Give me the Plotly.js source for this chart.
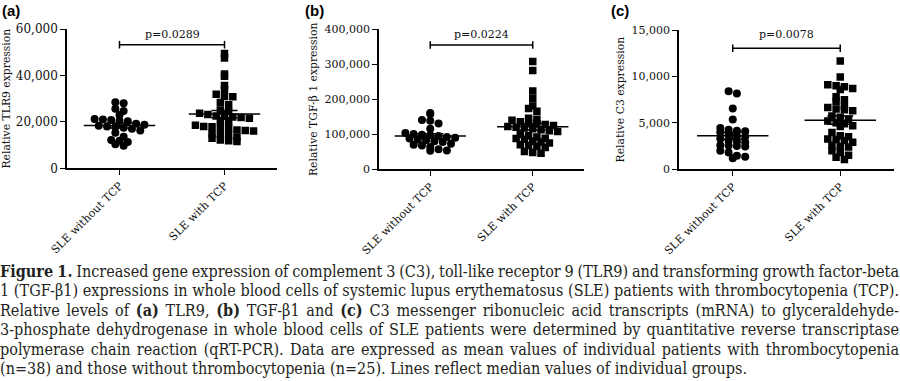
<!DOCTYPE html>
<html>
<head>
<meta charset="utf-8">
<script src="https://cdn.plot.ly/plotly-3.0.1.min.js"></script>
<style>
  html, body { margin: 0; padding: 0; background: #fff; }
  #wrap { position: relative; width: 900px; height: 381px; overflow: hidden; }
  #chart { position: absolute; left: 0; top: 0; width: 900px; height: 381px; }
  #caption { position: absolute; left: 0; top: 261.5px; width: 900px;
    transform-origin: 0 0;
    font-family: "DejaVu Serif", "Liberation Serif", serif;
    font-size: 16.5px; line-height: 19.5px; color: #231f20; }
  #caption div { white-space: nowrap; text-align: left; }
  #caption span { display: inline-block; white-space: nowrap; }
</style>
</head>
<body>
<div id="wrap">
  <div id="chart"></div>
  <div id="caption">
    <div><span class="j"><b>Figure 1.</b> Increased gene expression of complement 3 (C3), toll-like receptor 9 (TLR9) and transforming growth factor-beta</span></div>
    <div><span class="j">1 (TGF-β1) expressions in whole blood cells of systemic lupus erythematosus (SLE) patients with thrombocytopenia (TCP).</span></div>
    <div><span class="j">Relative levels of <b>(a)</b> TLR9, <b>(b)</b> TGF-β1 and <b>(c)</b> C3 messenger ribonucleic acid transcripts (mRNA) to glyceraldehyde-</span></div>
    <div><span class="j">3-phosphate dehydrogenase in whole blood cells of SLE patients were determined by quantitative reverse transcriptase</span></div>
    <div><span class="j">polymerase chain reaction (qRT-PCR). Data are expressed as mean values of individual patients with thrombocytopenia</span></div>
    <div><span id="lastline">(n=38) and those without thrombocytopenia (n=25). Lines reflect median values of individual groups.</span></div>
  </div>
</div>
<script>
// ---------------- data ----------------
const categories = ['SLE without TCP', 'SLE with TCP'];

const tlr9_noTCP = [28400, 28000, 25700, 24700, 23000, 21200, 21000, 20800, 20500, 20300,
  19200, 18800, 18300, 18000, 17800, 17500, 17000, 16300, 15300, 13600, 12200, 11900, 11300, 10400, 9700];
const tlr9_TCP = [49500, 47500, 40600, 39600, 35700, 33900, 31900, 30900, 30800, 28300, 27400,
  25100, 24500, 23700, 23200, 22500, 22400, 22100, 21900, 21600, 20600, 20100, 18500, 18000,
  17900, 17700, 17400, 16500, 16300, 16100, 15000, 14600, 14400, 13400, 12900, 12200, 11900, 11500];

const tgfb1_noTCP = [161000, 158000, 141000, 139000, 131000, 116000, 104000, 101000, 99000, 97000,
  95000, 92000, 90000, 88000, 85000, 83000, 80000, 78000, 73000, 70000, 68000, 64000, 57000, 54000, 53000];
const tgfb1_TCP = [308000, 282000, 224000, 202000, 181000, 174000, 166000, 146000, 143000, 140000,
  136000, 133000, 130000, 128000, 125000, 122000, 120000, 118000, 116000, 113000, 110000, 108000,
  100000, 96000, 92000, 89000, 88000, 86000, 80000, 78000, 75000, 70000, 68000, 66000, 62000, 51000, 48000, 46000];

const c3_noTCP = [8400, 8150, 6550, 5350, 4450, 4250, 4150, 4100, 4000, 3700, 3600, 3500, 3300,
  3100, 3000, 2900, 2600, 2550, 2500, 2450, 2000, 1800, 1450, 1350, 1200];
const c3_TCP = [11650, 9950, 9100, 9000, 8900, 8700, 8600, 7800, 7500, 7300, 6800, 6650, 6500,
  6400, 6300, 5750, 5600, 5400, 5200, 5000, 4900, 4700, 4600, 3950, 3600, 3500, 3250, 3200,
  3100, 2900, 2600, 2450, 2400, 2000, 1800, 1500, 1300, 1050];

const pValues = ['p=0.0289', 'p=0.0224', 'p=0.0078'];
const yTitles = ['Relative TLR9 expression', 'Relative TGF-β 1 expression', 'Relative C3 expression'];
const yMax = [60000, 400000, 15000];
const yStep = [20000, 100000, 5000];
const panelLabels = ['(a)', '(b)', '(c)'];

// ---------------- caption fit: last line width as in the reference, others justified ----------------
(function fitCaption() {
  const cap = document.getElementById('caption');
  const natural = document.getElementById('lastline').getBoundingClientRect().width;
  const s = 747 / natural;
  const target = 899 / s;
  cap.style.width = (900 / s) + 'px';
  cap.style.transform = 'scaleX(' + s + ')';
  document.querySelectorAll('#caption span.j').forEach(sp => {
    const w = sp.getBoundingClientRect().width / s;
    const nSpaces = (sp.textContent.match(/ /g) || []).length;
    if (nSpaces > 0) sp.style.wordSpacing = ((target - w) / nSpaces) + 'px';
  });
})();

// ---------------- layout geometry (pixels) ----------------
const W = 900, H = 381;
const panels = [
  { groups: [tlr9_noTCP, tlr9_TCP],   x0: 67,  x1: 277, yTop: 29,   yBot: 168.3, tickSize: 12, label: 0,   brk: 44.7, txt: 34 },
  { groups: [tgfb1_noTCP, tgfb1_TCP], x0: 379, x1: 584, yTop: 29.3, yBot: 169.3, tickSize: 11, label: 303, brk: 45,   txt: 34.3 },
  { groups: [c3_noTCP, c3_TCP],       x0: 679, x1: 894, yTop: 30,   yBot: 169.3, tickSize: 11, label: 609, brk: 48.3, txt: 35 }
];

function swarm(vals, center, xPerPx, yPerPx) {
  const binPx = 6.2, gapPx = 8.3;
  const bins = {};
  vals.forEach((v, i) => {
    const b = Math.floor(v / (binPx * yPerPx));
    (bins[b] = bins[b] || []).push(i);
  });
  const xs = new Array(vals.length);
  Object.values(bins).forEach(idx => {
    const k = idx.length;
    idx.forEach((i, j) => { xs[i] = center + (j - (k - 1) / 2) * gapPx * xPerPx; });
  });
  return xs;
}
function mean(a) { return a.reduce((s, v) => s + v, 0) / a.length; }
function sem(a) {
  const m = mean(a);
  const sd = Math.sqrt(a.reduce((s, v) => s + (v - m) * (v - m), 0) / (a.length - 1));
  return sd / Math.sqrt(a.length);
}

const traces = [];
const layout = {
  width: W, height: H,
  margin: { l: 0, r: 0, t: 0, b: 0 },
  paper_bgcolor: '#fff', plot_bgcolor: 'rgba(0,0,0,0)',
  showlegend: false,
  shapes: [], annotations: []
};
const serif = 'DejaVu Serif, Liberation Serif, serif';

panels.forEach((p, k) => {
  const s = k === 0 ? '' : String(k + 1);
  const xa = 'x' + s, ya = 'y' + s;
  const xPerPx = 2 / (p.x1 - p.x0);
  const yPerPx = yMax[k] / (p.yBot - p.yTop);
  const yd0 = 1 - p.yBot / H, yd1 = 1 - p.yTop / H;

  p.groups.forEach((vals, g) => {
    traces.push({
      type: 'scatter', mode: 'markers', xaxis: xa, yaxis: ya,
      x: swarm(vals, g, xPerPx, yPerPx), y: vals,
      marker: { symbol: g === 0 ? 'circle' : 'square', size: g === 0 ? 8 : 7.5, color: '#000' },
      hoverinfo: 'y'
    });
  });
  traces.push({
    type: 'scatter', mode: 'markers', xaxis: xa, yaxis: ya,
    x: [0, 1], y: p.groups.map(mean),
    marker: { symbol: 'line-ew', size: 51, color: '#000', line: { color: '#000', width: 1.5 } },
    error_y: { type: 'data', array: p.groups.map(sem), visible: true, color: '#000', thickness: 1.5, width: 13 },
    hoverinfo: 'skip'
  });

  layout['xaxis' + s] = {
    domain: [p.x0 / W, p.x1 / W], anchor: ya, range: [-0.5, 1.5],
    tickmode: 'array', tickvals: [0, 1], ticktext: categories, tickangle: -45,
    ticks: 'outside', ticklen: 5, tickwidth: 1.2, tickcolor: '#000',
    showline: true, linecolor: '#000', linewidth: 1.5,
    showgrid: false, zeroline: false, automargin: false, fixedrange: true,
    tickfont: { family: serif, size: 11, color: '#111' }
  };
  layout['yaxis' + s] = {
    domain: [yd0, yd1], anchor: xa, range: [0, yMax[k]], dtick: yStep[k], tickformat: ',d',
    ticks: 'outside', ticklen: 5, tickwidth: 1.2, tickcolor: '#000',
    showline: true, linecolor: '#000', linewidth: 1.5,
    showgrid: false, zeroline: false, automargin: false, fixedrange: true,
    tickfont: { family: serif, size: p.tickSize, color: '#111' },
    title: { text: yTitles[k], font: { family: serif, size: 10.8, color: '#111' }, standoff: 5 }
  };

  // significance bracket
  const by = (p.yBot - p.brk) / (p.yBot - p.yTop);
  const hb = 3.8 / (p.yBot - p.yTop);
  const lineStyle = { color: '#000', width: 1.5 };
  layout.shapes.push(
    { type: 'line', xref: xa, yref: ya + ' domain', x0: 0, x1: 1, y0: by, y1: by, line: lineStyle },
    { type: 'line', xref: xa, yref: ya + ' domain', x0: 0, x1: 0, y0: by - hb, y1: by + hb, line: lineStyle },
    { type: 'line', xref: xa, yref: ya + ' domain', x0: 1, x1: 1, y0: by - hb, y1: by + hb, line: lineStyle }
  );
  layout.annotations.push({
    text: pValues[k], xref: xa, yref: ya + ' domain', x: 0.5,
    y: (p.yBot - p.txt) / (p.yBot - p.yTop), xanchor: 'center', yanchor: 'middle',
    showarrow: false, font: { family: serif, size: 11, color: '#111' }
  });
  layout.annotations.push({
    text: '<b>' + panelLabels[k] + '</b>', xref: 'paper', yref: 'paper',
    x: p.label / W, y: 1, xanchor: 'left', yanchor: 'top', showarrow: false,
    font: { family: 'Liberation Sans, Arial, sans-serif', size: 15, color: '#000' }
  });
});

Plotly.newPlot('chart', traces, layout, { displayModeBar: false });
</script>
</body>
</html>
